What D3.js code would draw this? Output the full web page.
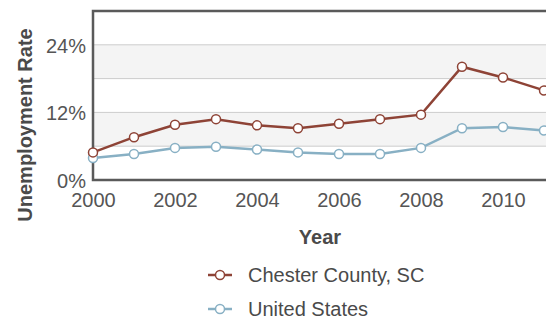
<!DOCTYPE html>
<html>
<head>
<meta charset="utf-8">
<script src="https://cdn.jsdelivr.net/npm/d3@7"></script>
<style>
  html, body { margin: 0; padding: 0; background: #fff; overflow: hidden; }
  svg { display: block; font-family: "Liberation Sans", Arial, sans-serif; }
</style>
</head>
<body>
<div id="chart"></div>
<script>
// years on the x axis
const years = [2000, 2001, 2002, 2003, 2004, 2005, 2006, 2007, 2008, 2009, 2010, 2011];

// unemployment rate, percent
const chester = [4.9, 7.6, 9.8, 10.8, 9.7, 9.2, 10.0, 10.8, 11.6, 20.1, 18.2, 15.9];
const usa = [3.9, 4.6, 5.7, 5.9, 5.4, 4.9, 4.6, 4.6, 5.7, 9.2, 9.4, 8.8];

const seriesNames = ["Chester County, SC", "United States"];
const seriesColors = ["#8e4336", "#88b0c4"];

const yTicks = [0, 12, 24];
const gridTicks = [6, 12, 18, 24];
const xTicks = [2000, 2002, 2004, 2006, 2008, 2010];

// the plot runs past the right edge of the window, like the original
const W = 620, H = 320;
const margin = { top: 11, left: 93 };
const plotH = 169;

const svg = d3.select("#chart")
  .append("svg")
  .attr("width", W)
  .attr("height", H);

const x = d3.scaleLinear()
  .domain([2000, 2012])
  .range([margin.left, margin.left + 12 * 41]);

const y = d3.scaleLinear()
  .domain([0, 30])
  .range([margin.top + plotH, margin.top]);

// alternating bands
const bands = [[6, 12], [18, 24]];
svg.selectAll(".band")
  .data(bands)
  .enter().append("rect")
  .attr("x", x(2000))
  .attr("y", d => y(d[1]))
  .attr("width", x(2012) - x(2000))
  .attr("height", d => y(d[0]) - y(d[1]))
  .attr("fill", "#f4f4f4");

// grid lines
svg.selectAll(".grid")
  .data(gridTicks)
  .enter().append("line")
  .attr("x1", x(2000))
  .attr("x2", x(2012))
  .attr("y1", d => y(d))
  .attr("y2", d => y(d))
  .attr("stroke", "#cccccc")
  .attr("stroke-width", 1);

// frame
svg.append("path")
  .attr("d", `M${x(2012)},${y(30)} H${x(2000)} V${y(0)} H${x(2012)}`)
  .attr("fill", "none")
  .attr("stroke", "#5a5a5a")
  .attr("stroke-width", 2.5);

// y axis labels
const yAxis = svg.append("g")
  .attr("transform", `translate(${x(2000) - 7},0)`)
  .call(d3.axisLeft(y).tickValues(yTicks).tickFormat(d => d + "%").tickSize(0).tickPadding(0));
yAxis.select(".domain").remove();
yAxis.selectAll("text")
  .attr("font-size", 20)
  .attr("font-family", "Liberation Sans, Arial, sans-serif")
  .attr("fill", "#555")
  .attr("dy", "0.36em");

// x axis labels
const xAxis = svg.append("g")
  .attr("transform", `translate(0,${y(0) + 13})`)
  .call(d3.axisBottom(x).tickValues(xTicks).tickFormat(d3.format("d")).tickSize(0).tickPadding(0));
xAxis.select(".domain").remove();
xAxis.selectAll("text")
  .attr("font-size", 20)
  .attr("font-family", "Liberation Sans, Arial, sans-serif")
  .attr("fill", "#555");

// axis titles
svg.append("text")
  .attr("x", 320)
  .attr("y", 244)
  .attr("text-anchor", "middle")
  .attr("font-size", 20)
  .attr("font-weight", "bold")
  .attr("fill", "#4a4a4a")
  .text("Year");

svg.append("text")
  .attr("transform", "translate(32,125) rotate(-90)")
  .attr("text-anchor", "middle")
  .attr("font-size", 20)
  .attr("font-weight", "bold")
  .attr("fill", "#4a4a4a")
  .text("Unemployment Rate");

// lines and markers
const allSeries = [chester, usa];
const line = d3.line()
  .x((d, i) => x(years[i]))
  .y(d => y(d));

// draw US first so Chester sits on top
[1, 0].forEach(k => {
  svg.append("path")
    .datum(allSeries[k])
    .attr("d", line)
    .attr("fill", "none")
    .attr("stroke", seriesColors[k])
    .attr("stroke-width", 2.5);

  svg.selectAll(".pt" + k)
    .data(allSeries[k])
    .enter().append("circle")
    .attr("cx", (d, i) => x(years[i]))
    .attr("cy", d => y(d))
    .attr("r", 4.5)
    .attr("fill", "#fff")
    .attr("stroke", seriesColors[k])
    .attr("stroke-width", 1.5);
});

// legend
const legendY = [275, 309];
const legend = svg.selectAll(".legend")
  .data(seriesNames)
  .enter().append("g")
  .attr("transform", (d, i) => `translate(208,${legendY[i]})`);

legend.append("line")
  .attr("x1", 0).attr("x2", 24)
  .attr("stroke", (d, i) => seriesColors[i])
  .attr("stroke-width", 2.5);

legend.append("circle")
  .attr("cx", 12)
  .attr("r", 4.5)
  .attr("fill", "#fff")
  .attr("stroke", (d, i) => seriesColors[i])
  .attr("stroke-width", 1.5);

legend.append("text")
  .attr("x", 40)
  .attr("dy", "0.36em")
  .attr("font-size", 20)
  .attr("fill", "#4a4a4a")
  .text(d => d);
</script>
</body>
</html>
